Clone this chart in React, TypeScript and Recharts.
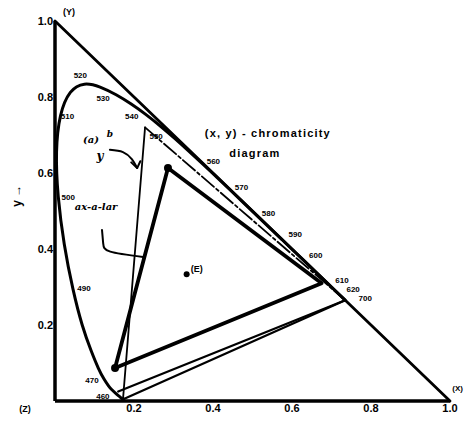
import React from 'react';
import { ComposedChart, Line, Scatter, XAxis, YAxis } from 'recharts';

// CIE 1931 spectral locus: wavelength (nm) and chromaticity coordinates
const wavelengths = [380, 400, 420, 440, 450, 460, 465, 470, 475, 480, 485, 490, 495, 500, 505, 510, 515, 520, 525, 530, 535, 540, 545, 550, 555, 560, 565, 570, 575, 580, 585, 590, 595, 600, 610, 620, 640, 660, 700];
const locusX = [0.1741, 0.1733, 0.1714, 0.1644, 0.1566, 0.1440, 0.1355, 0.1241, 0.1096, 0.0913, 0.0687, 0.0454, 0.0235, 0.0082, 0.0039, 0.0139, 0.0389, 0.0743, 0.1142, 0.1547, 0.1929, 0.2296, 0.2658, 0.3016, 0.3373, 0.3731, 0.4087, 0.4441, 0.4788, 0.5125, 0.5448, 0.5752, 0.6029, 0.6270, 0.6658, 0.6915, 0.7190, 0.7300, 0.7347];
const locusY = [0.0050, 0.0048, 0.0051, 0.0109, 0.0177, 0.0297, 0.0399, 0.0578, 0.0868, 0.1327, 0.2007, 0.2950, 0.4127, 0.5384, 0.6548, 0.7502, 0.8120, 0.8338, 0.8262, 0.8059, 0.7816, 0.7543, 0.7243, 0.6923, 0.6589, 0.6245, 0.5896, 0.5547, 0.5202, 0.4866, 0.4544, 0.4242, 0.3965, 0.3725, 0.3340, 0.3083, 0.2809, 0.2700, 0.2653];

// wavelengths that carry a label along the locus
const labeledWavelengths = [460, 470, 490, 500, 510, 520, 530, 540, 550, 560, 570, 580, 590, 600, 610, 620, 700];

// axis ticks
const xTicks = [0.2, 0.4, 0.6, 0.8, 1.0];
const yTicks = [0.2, 0.4, 0.6, 0.8, 1.0];

// display primaries (G, B, R)
const displayX = [0.286, 0.152, 0.675, 0.286];
const displayY = [0.613, 0.087, 0.31, 0.613];

// reference primaries
const refGreen = { x: 0.228, y: 0.72 };
const refBlueTop = { x: 0.172, y: 0.003 };
const refBlueLow = { x: 0.16, y: 0.025 };

// equal-energy white
const whiteE = { x: 0.3333, y: 0.3333 };

// gamut boundary x + y = 1
const boundaryX = [0, 1];
const boundaryY = [1, 0];

// handwritten pointer curves
const pointerAX = [0.139, 0.172, 0.195, 0.208];
const pointerAY = [0.661, 0.655, 0.636, 0.613];
const headAX = [0.193, 0.208, 0.216];
const headAY = [0.628, 0.613, 0.631];
const pointerBX = [0.119, 0.122, 0.14, 0.223];
const pointerBY = [0.45, 0.415, 0.393, 0.379];

// text notes anchored in chromaticity coordinates
const noteText = ['(x, y) - chromaticity', 'diagram', '(a)', 'b', 'y', 'ax-a-lar', '(E)', '(Z)', '(Y)', '(X)', 'y →'];
const noteX = [0.539, 0.506, 0.091, 0.139, 0.114, 0.104, 0.3333, 0, 0, 1, 0];
const noteY = [0.705, 0.653, 0.687, 0.703, 0.645, 0.513, 0.3333, 0, 1, 0, 0.54];

const pts = (xs: number[], ys: number[]) => xs.map((x, i) => ({ x, y: ys[i] }));

const locus = pts(locusX, locusY);
const purpleLine = [locus[0], locus[locus.length - 1]];
const labelPoints = labeledWavelengths.map((wl) => {
  const i = wavelengths.indexOf(wl);
  return { x: locusX[i], y: locusY[i], wl };
});
const notes = noteText.map((text, i) => ({ x: noteX[i], y: noteY[i], text }));

// label offsets (px) relative to the locus point
const wlOffset: Record<number, [number, number]> = {
  460: [-9, 7], 470: [-12, 1], 490: [11, 0], 500: [10, 1], 510: [7, 1], 520: [-4, -9],
  530: [-13, 4], 540: [-14, 2], 550: [-18, -1], 560: [11, -2], 570: [11, -3], 580: [11, -3],
  590: [13, -5], 600: [13, -4], 610: [24, 6], 620: [25, 6], 700: [20, -2],
};

type NoteStyle = { dx: number; dy: number; size: number; anchor?: string; italic?: boolean; spacing?: number; rotate?: number };
const noteStyle: Record<string, NoteStyle> = {
  '(x, y) - chromaticity': { dx: 0, dy: 0, size: 11, spacing: 1.2 },
  diagram: { dx: 0, dy: 0, size: 11, spacing: 1.2 },
  '(a)': { dx: 0, dy: 0, size: 10, italic: true },
  b: { dx: 0, dy: 0, size: 9, italic: true },
  y: { dx: 0, dy: 0, size: 12, italic: true },
  'ax-a-lar': { dx: 0, dy: 0, size: 10, italic: true },
  '(E)': { dx: 4, dy: -5, size: 9, anchor: 'start' },
  '(Z)': { dx: -30, dy: 8, size: 9 },
  '(Y)': { dx: 14, dy: -9, size: 9 },
  '(X)': { dx: 13, dy: -13, size: 8, anchor: 'end' },
  'y →': { dx: -38, dy: 0, size: 12, rotate: -90 },
};

const INK = '#000';

const WavelengthTag = (props: any) => {
  const { cx, cy, payload } = props;
  const [dx, dy] = wlOffset[payload.wl] ?? [0, 0];
  return (
    <text x={cx + dx} y={cy + dy} textAnchor="middle" dominantBaseline="central"
      fontFamily="Liberation Sans, Arial, sans-serif" fontWeight={700} fontSize={8} fill={INK}>
      {payload.wl}
    </text>
  );
};

const NoteMark = (props: any) => {
  const { cx, cy, payload } = props;
  const st = noteStyle[payload.text];
  const x = cx + st.dx;
  const y = cy + st.dy;
  return (
    <text x={x} y={y} textAnchor={st.anchor ?? 'middle'} dominantBaseline="central"
      fontFamily={st.italic ? 'DejaVu Serif, serif' : 'Liberation Sans, Arial, sans-serif'}
      fontStyle={st.italic ? 'italic' : 'normal'} fontWeight={700} fontSize={st.size}
      letterSpacing={st.spacing ?? 0} fill={INK}
      transform={st.rotate ? `rotate(${st.rotate} ${x} ${y})` : undefined}>
      {payload.text}
    </text>
  );
};

const VertexDot = (props: any) => <circle cx={props.cx} cy={props.cy} r={props.r ?? 4} fill={INK} />;

const tickStyle = { fill: INK, fontSize: 11, fontWeight: 700, fontFamily: 'Liberation Sans, Arial, sans-serif' };
const fmt = (v: number) => v.toFixed(1);

export default function App() {
  const line = (key: string, data: { x: number; y: number }[], width: number, extra: any = {}) => (
    <Line key={key} data={data} dataKey="y" type="linear" stroke={INK} strokeWidth={width} dot={false}
      activeDot={false} isAnimationActive={false} strokeLinecap="round" strokeLinejoin="round" {...extra} />
  );
  return (
    <div style={{ position: 'absolute', left: 0, top: 0, width: 464, height: 431, background: '#fff' }}>
      <ComposedChart width={464} height={431} margin={{ top: 21, right: 14, left: 0, bottom: 0 }}>
        <XAxis type="number" dataKey="x" domain={[0, 1]} ticks={xTicks} tickFormatter={fmt}
          height={30} axisLine={{ stroke: INK, strokeWidth: 3.5 }} tickLine={false} tickSize={2} tickMargin={1}
          tick={tickStyle} interval={0} />
        <YAxis type="number" dataKey="y" domain={[0, 1]} ticks={yTicks} tickFormatter={fmt}
          width={55} axisLine={{ stroke: INK, strokeWidth: 3.5 }} tickLine={false} tickSize={1} tickMargin={1}
          tick={tickStyle} interval={0} />

        {line('boundary', pts(boundaryX, boundaryY), 2.8)}
        {line('locus', locus, 3, { type: 'natural' })}
        {line('purple', purpleLine, 2.2)}
        {line('refBR', [refBlueLow, locus[locus.length - 1]], 2.2)}
        {line('refGB', [refGreen, refBlueTop], 1.8)}
        {line('refGR', [refGreen, locus[locus.length - 1]], 1.8, { strokeDasharray: '16 3 3 3' })}
        {line('display', pts(displayX, displayY), 3.8)}
        {line('pointerA', pts(pointerAX, pointerAY), 2, { type: 'natural' })}
        {line('headA', pts(headAX, headAY), 2)}
        {line('pointerB', pts(pointerBX, pointerBY), 2, { type: 'natural' })}

        <Scatter data={pts(displayX.slice(0, 2), displayY.slice(0, 2))} dataKey="y" shape={VertexDot} isAnimationActive={false} />
        <Scatter data={[whiteE]} dataKey="y" shape={(p: any) => <VertexDot {...p} r={3} />} isAnimationActive={false} />
        <Scatter data={labelPoints} dataKey="y" shape={WavelengthTag} isAnimationActive={false} />
        <Scatter data={notes} dataKey="y" shape={NoteMark} isAnimationActive={false} />
      </ComposedChart>
    </div>
  );
}
